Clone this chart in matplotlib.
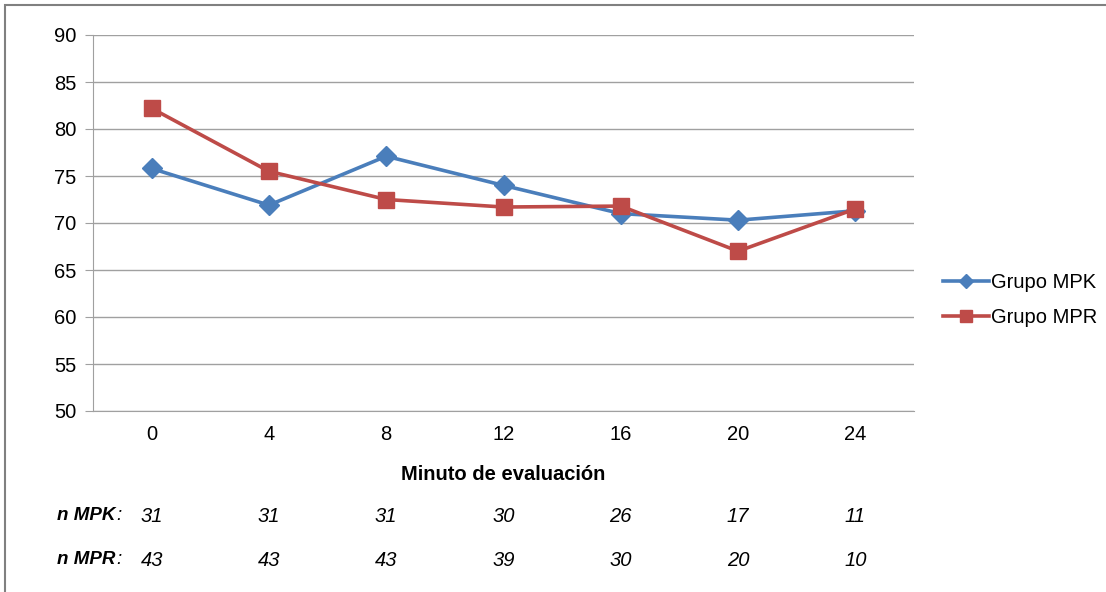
import matplotlib.pyplot as plt
from matplotlib.patches import Rectangle

plt.rcParams['font.family'] = ['Liberation Sans', 'DejaVu Sans']

# datos
minutos = ['0', '4', '8', '12', '16', '20', '24']
grupo_mpk = [75.8, 71.9, 77.1, 74.0, 71.0, 70.3, 71.3]
grupo_mpr = [82.2, 75.5, 72.5, 71.7, 71.8, 67.0, 71.5]
n_mpk = [31, 31, 31, 30, 26, 17, 11]
n_mpr = [43, 43, 43, 39, 30, 20, 10]

AZUL = '#4A7EBB'
ROJO = '#BE4B48'
GRIS = '#A0A0A0'
FS = 14.5

W, H = 1106, 592
fig = plt.figure(figsize=(W / 100, H / 100), dpi=100)
ax = fig.add_axes([93 / W, 1 - 411 / H, (914 - 93) / W, (411 - 35) / H])

# marco exterior (recortado)
fig.patches.append(Rectangle((5 / W, -0.1), 1.2, 1 - 5 / H + 0.1, transform=fig.transFigure,
                             fill=False, edgecolor='#808080', linewidth=1.5))

x = list(range(len(minutos)))
ax.plot(x, grupo_mpk, color=AZUL, lw=2.6, marker='D', ms=10, label='Grupo MPK')
ax.plot(x, grupo_mpr, color=ROJO, lw=2.6, marker='s', ms=11, label='Grupo MPR')

ax.set_xlim(-0.5, len(minutos) - 0.5)
ax.set_ylim(50, 90)
ax.set_yticks(range(50, 91, 5))
ax.set_xticks(x)
ax.set_xticklabels(minutos)
ax.yaxis.grid(True, color=GRIS, lw=1)
ax.set_axisbelow(True)
for s in ['top', 'right']:
    ax.spines[s].set_visible(False)
ax.spines['left'].set_color(GRIS)
ax.spines['bottom'].set_color(GRIS)
ax.tick_params(axis='y', length=6, color=GRIS, labelsize=FS, pad=6)
ax.tick_params(axis='x', length=0, labelsize=FS, pad=10)

ax.set_xlabel('Minuto de evaluación', fontsize=FS, fontweight='bold', labelpad=15)

# filas de n
for lab, yy in [('n MPK', 514), ('n MPR', 558)]:
    t = fig.text(57 / W, 1 - yy / H, lab, fontsize=13.5, fontweight='bold', style='italic',
                 va='center_baseline')
    ax.annotate(':', xy=(1, 0), xycoords=t, xytext=(0.5, 0), textcoords='offset points',
                va='bottom', ha='left', fontsize=13.5, style='italic', annotation_clip=False)

for i in x:
    ax.text(i, -103 / 376, str(n_mpk[i]), transform=ax.get_xaxis_transform(),
            ha='center', va='center_baseline', fontsize=FS, style='italic', clip_on=False)
    ax.text(i, -147 / 376, str(n_mpr[i]), transform=ax.get_xaxis_transform(),
            ha='center', va='center_baseline', fontsize=FS, style='italic', clip_on=False)

fig.legend(loc='center left', bbox_to_anchor=(943 / W, 1 - 300 / H), frameon=False,
           fontsize=FS, handlelength=2.3, handletextpad=0.1, labelspacing=0.75,
           markerscale=0.75, borderaxespad=0, borderpad=0)

fig.savefig('out.png', dpi=100)
